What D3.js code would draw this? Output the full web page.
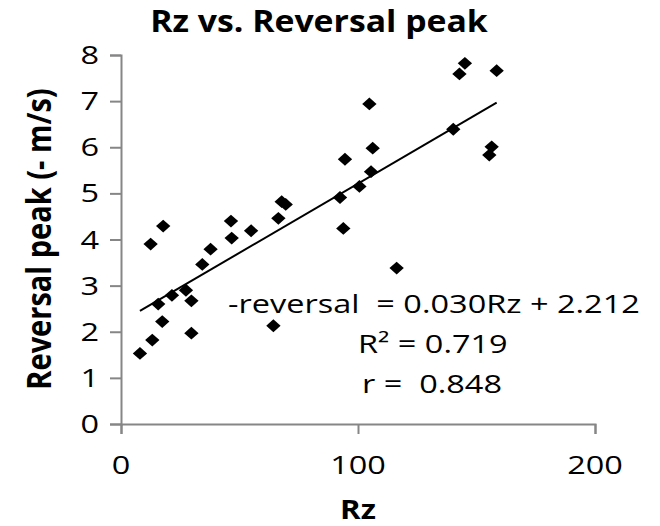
<!DOCTYPE html>
<html><head><meta charset="utf-8">
<script src="https://cdn.jsdelivr.net/npm/d3@7"></script>
<style>body{margin:0;background:#fff}svg{display:block}text{font-family:"Open Sans",sans-serif}</style>
</head><body><svg id="c" width="660" height="526"></svg>
<script>
const rz = [8.0,13.2,17.4,15.7,21.5,27.4,29.7,29.7,12.5,17.8,34.3,37.8,46.7,46.4,54.9,66.4,67.8,69.5,64.3,92.4,94.5,93.8,100.6,105.5,106.2,104.8,116.3,140.2,142.8,145.1,158.5,156.4,155.4];
const peak = [1.53,1.82,2.22,2.60,2.79,2.90,2.67,1.97,3.90,4.29,3.46,3.79,4.03,4.40,4.19,4.46,4.82,4.76,2.13,4.91,5.74,4.24,5.15,5.47,5.98,6.94,3.38,6.39,7.59,7.82,7.66,6.01,5.83];
const xTicks = [0,100,200];
const yTicks = [0,1,2,3,4,5,6,7,8];
const trendSlope = 0.030, trendIntercept = 2.212;
const eqLines = ["-reversal  = 0.030Rz + 2.212", "R\u00B2 = 0.719", "r =  0.848"];

const svg = d3.select("#c");
const x = d3.scaleLinear().domain([0,200]).range([121,595]);
const y = d3.scaleLinear().domain([0,8]).range([424,55]);
const axisColor = "#868686";
const SX = 1.3; // horizontal stretch of the original picture

function label(px, py, txt, size, opts={}) {
  return svg.append("text")
    .attr("transform", `translate(${px},${py}) scale(${opts.sx||SX},1)` + (opts.rot?` rotate(${opts.rot})`:""))
    .attr("text-anchor", opts.anchor||"start")
    .attr("fill","#000")
    .style("font-size", size+"px")
    .style("font-weight", opts.bold?"bold":"normal")
    .style("white-space","pre")
    .text(txt);
}

// axes (lines & ticks only)
const gx = svg.append("g").attr("transform","translate(0,424)")
  .call(d3.axisBottom(x).tickValues(xTicks).tickSize(10).tickFormat(""));
const gy = svg.append("g").attr("transform","translate(121,0)")
  .call(d3.axisLeft(y).tickValues(yTicks).tickSize(11).tickFormat(""));
[gx,gy].forEach(g=>{
  g.select(".domain").attr("stroke",axisColor).attr("stroke-width",2);
  g.selectAll(".tick line").attr("stroke",axisColor).attr("stroke-width",2);
});
xTicks.forEach(v=>label(x(v), 474, String(v), 25, {anchor:"middle"}));
yTicks.forEach(v=>label(99, y(v)+9, String(v), 25, {anchor:"end"}));

// trendline
const xmin = d3.min(rz), xmax = d3.max(rz);
svg.append("line")
  .attr("x1",x(xmin)).attr("y1",y(trendSlope*xmin+trendIntercept))
  .attr("x2",x(xmax)).attr("y2",y(trendSlope*xmax+trendIntercept))
  .attr("stroke","#000").attr("stroke-width",2);

// points
const sym = d3.symbol().type(d3.symbolSquare).size(82);
svg.append("g").selectAll("path").data(rz.map((v,i)=>[v,peak[i]])).join("path")
  .attr("d",sym)
  .attr("transform",d=>`translate(${x(d[0])},${y(d[1])}) scale(1.12,1) rotate(45)`)
  .attr("fill","#000");

// title
label(319, 32, "Rz vs. Reversal peak", 31, {bold:true, anchor:"middle", sx:1.09});
// axis titles
label(358, 519, "Rz", 26, {bold:true, anchor:"middle", sx:1.2});
label(51, 239, "Reversal peak (- m/s)", 29, {bold:true, anchor:"middle", rot:-90, sx:1.15});

// equation
const eqX = [228, 358, 362], eqY = [313, 353, 393];
eqLines.forEach((t,i)=>label(eqX[i], eqY[i], t, 25));
</script></body></html>
